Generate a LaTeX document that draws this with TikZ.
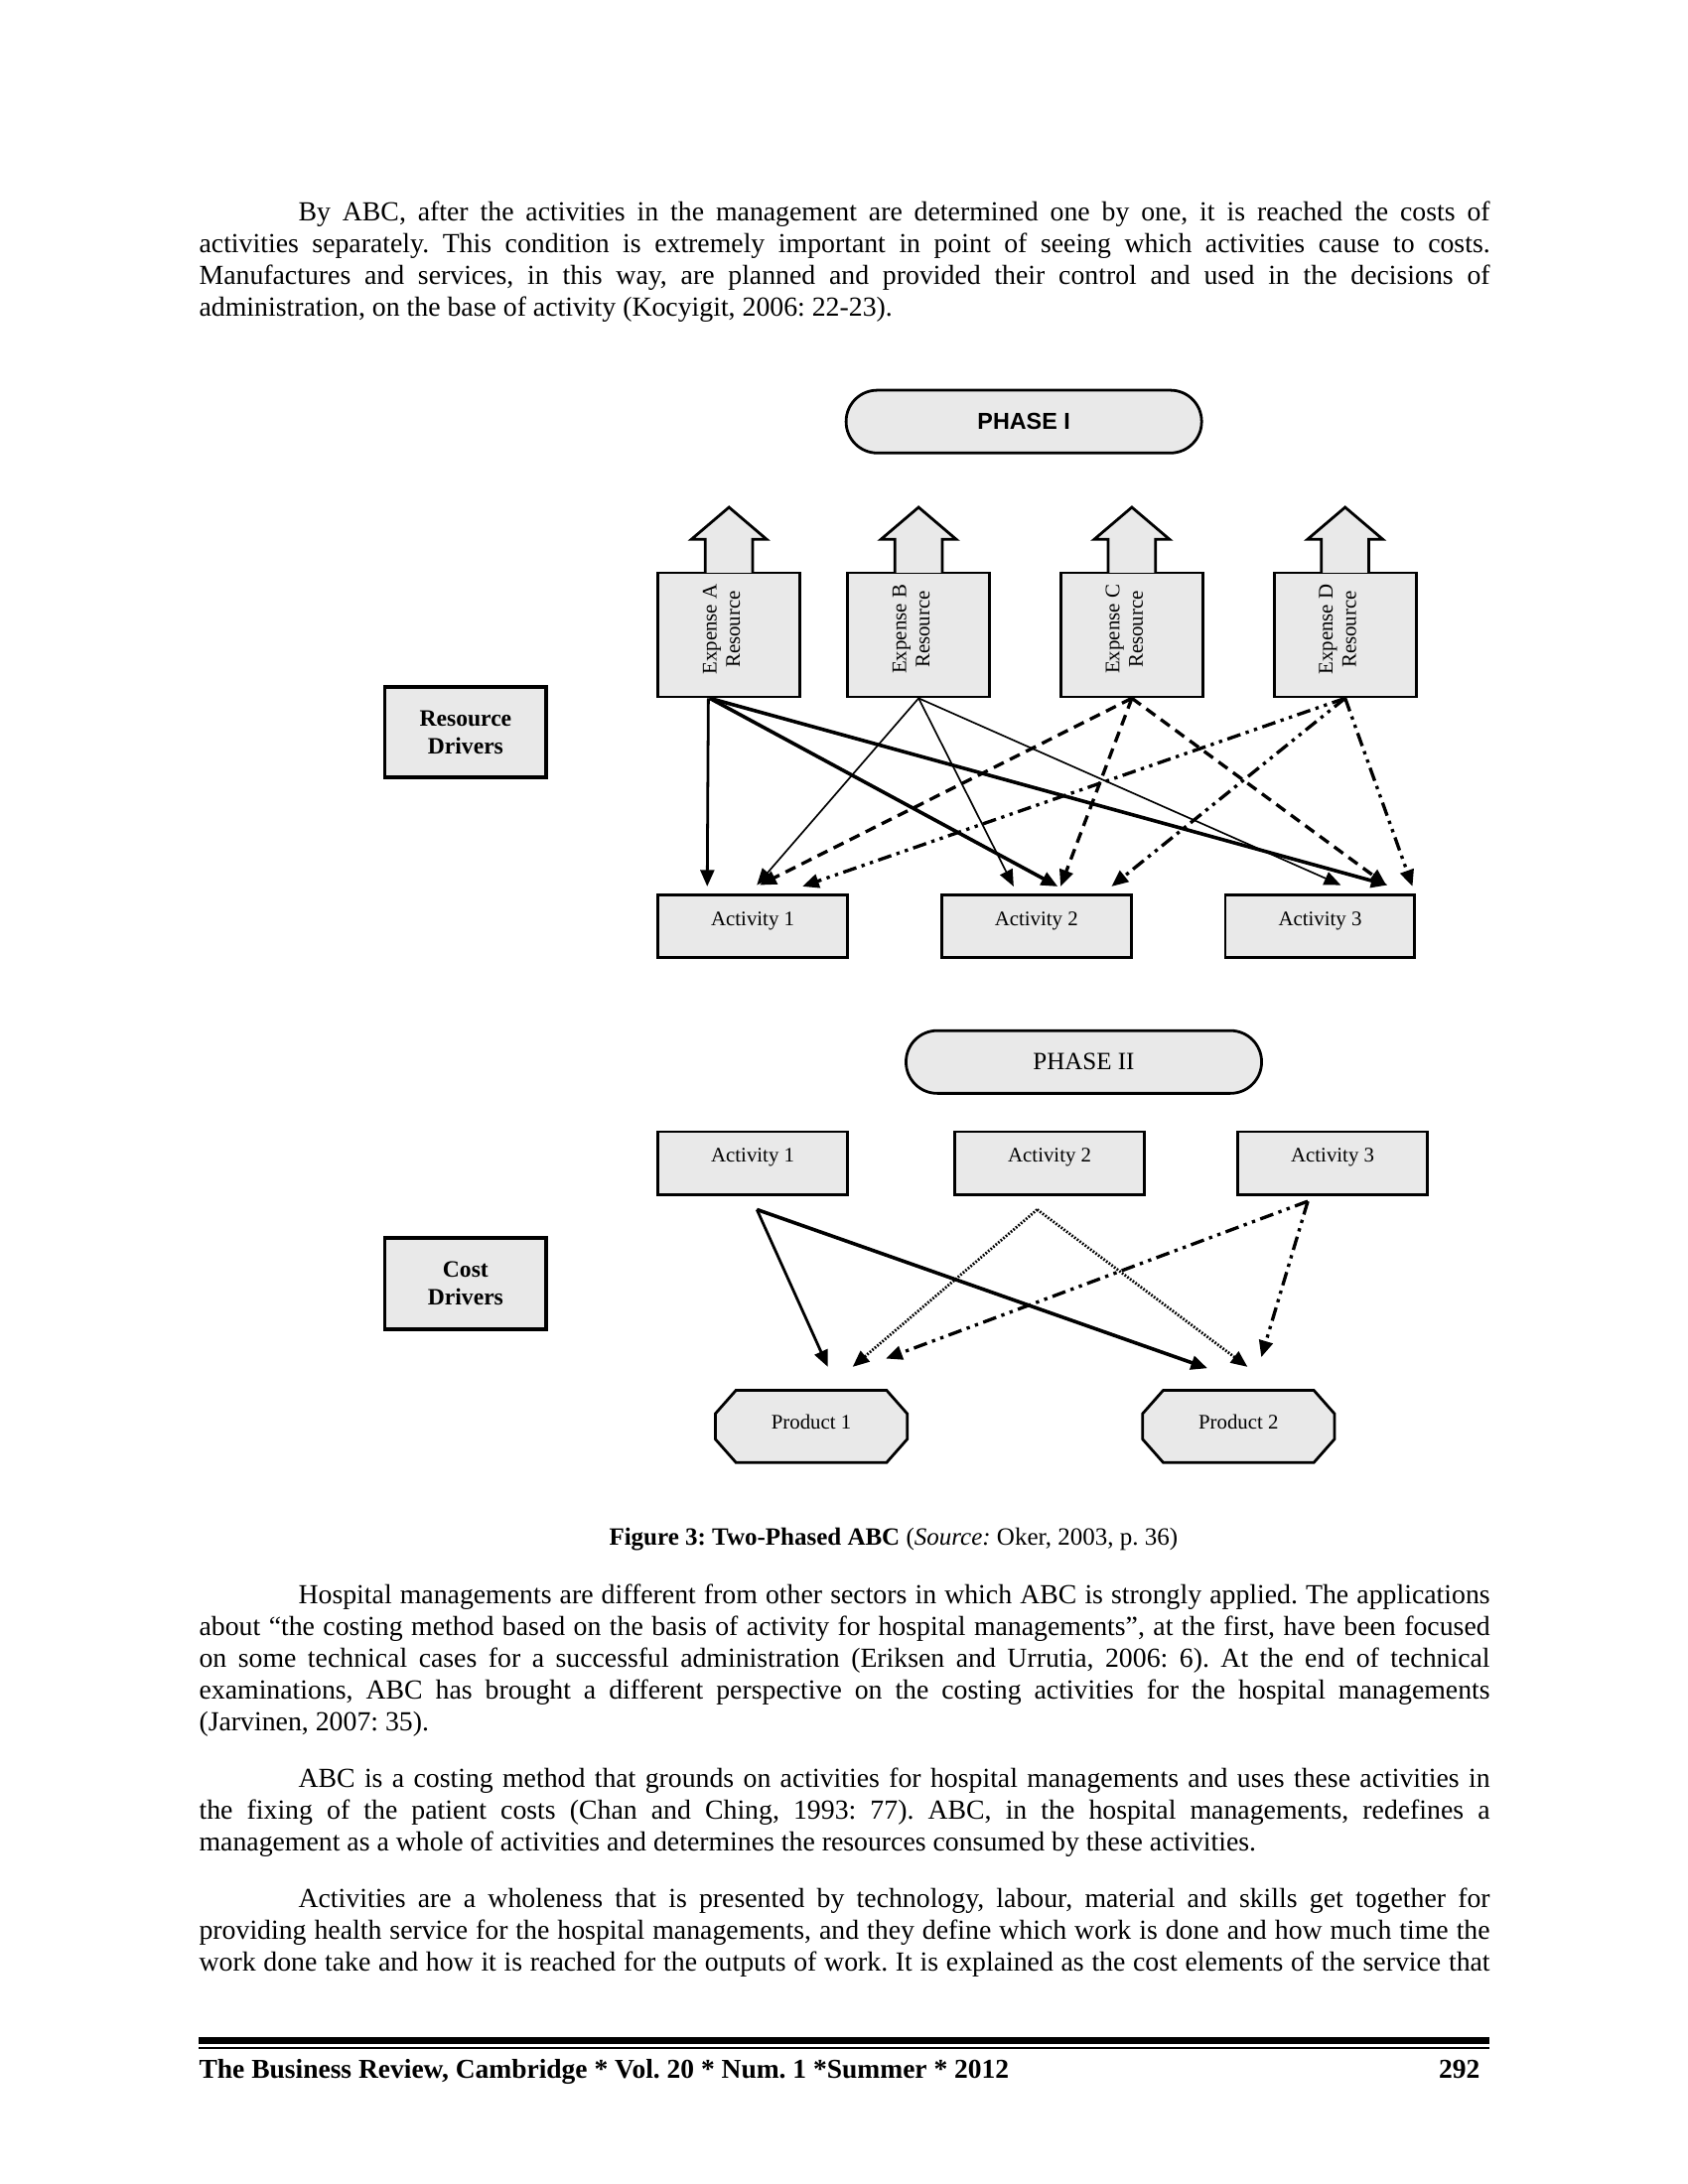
\documentclass[tikz,border=0pt]{standalone}
\usepackage{fontspec}
\usepackage{graphicx}
\setmainfont{Liberation Serif}
\newfontfamily\arialfont{Liberation Sans}
\usetikzlibrary{arrows.meta,backgrounds}
\definecolor{boxgray}{RGB}{233,233,233}
% one justified line of body text, and a last (natural) line
\newcommand{\jline}[1]{\hbox to 468pt{\strut #1}}
\newcommand{\lline}[1]{\hbox{\strut #1}}
\frenchspacing

\begin{document}
\begin{tikzpicture}[x=0.5054pt,y=-0.5054pt,
  box/.style={draw,line width=1pt,fill=boxgray,inner sep=0pt},
  resbox/.style={box,minimum width=51.5pt,minimum height=45pt,font=\fontsize{7.5}{8.5}\selectfont},
  actbox/.style={box,minimum width=68.7pt,minimum height=22.75pt,text height=5.5pt,text depth=6pt,font=\fontsize{7.5}{9}\selectfont},
  drvbox/.style={box,line width=1.4pt,minimum width=58.6pt,minimum height=32.85pt,align=center,font=\fontsize{8.5}{10}\selectfont\bfseries},
  phasebox/.style={box,rounded corners=11.3pt,minimum width=128.9pt,minimum height=22.75pt},
  prodbox/.style={inner sep=0pt,minimum width=69.2pt,minimum height=25.8pt,text depth=3pt,font=\fontsize{7.5}{9}\selectfont},
  para/.style={anchor=north west,inner sep=0pt,font=\fontsize{10}{11.5}\selectfont},
  link/.style={-{Triangle[length=6pt,width=5pt]}},
  midlink/.style={link,line width=1pt},
  heavylink/.style={link,line width=1.3pt},
  lightlink/.style={link,line width=0.6pt},
  dashlink/.style={link,line width=1.2pt,dash pattern=on 4pt off 2.5pt},
  dotdashlink/.style={link,line width=1.2pt,dash pattern=on 5pt off 2pt on 1.2pt off 2pt on 1.2pt off 2pt},
  dotlink/.style={link,line width=1pt,dash pattern=on 0.6pt off 0.6pt}]

  \useasboundingbox (0,0) rectangle (1210.9,1567.1);

  % text above the figure
  \node[para] (txt1) at (142.5,142.4) {\vbox{%
    \jline{\hspace*{36pt}By ABC, after the activities in the management are determined one by one, it is reached the costs of}
    \jline{activities separately. This condition is extremely important in point of seeing which activities cause to costs.}
    \jline{Manufactures and services, in this way, are planned and provided their control and used in the decisions of}
    \lline{administration, on the base of activity (Kocyigit, 2006: 22-23).}}};

  % phase I
  \node[phasebox,font=\arialfont\fontsize{8.4}{9}\selectfont\bfseries] (ph1) at (734.5,302.5) {PHASE I};
  \foreach \n/\x in {A/523,B/659,C/812,D/965} {
    \node[resbox] (ex\n) at (\x,455.5) {\kern-4pt\raisebox{4pt}{\rotatebox{90}{\begin{tabular}{@{}c@{}}Expense \n\\Resource\end{tabular}}}};
    \draw[line width=1pt,fill=boxgray] ([xshift=-8.6pt,yshift=-0.5pt]ex\n.north) -- ++(0,-24) -- ++(-10,0)
      -- ++(27,-23) -- ++(27,23) -- ++(-10,0) -- ++(0,24);
  }
  \node[drvbox] (resdrv) at (334,525.5) {Resource\\Drivers};
  \node[actbox] (r1) at (540,664.5) {Activity 1};
  \node[actbox] (r2) at (743.5,664.5) {Activity 2};
  \node[actbox] (r3) at (947,664.5) {Activity 3};

  \draw[midlink] ([xshift=-7.5pt]exA.south) -- ([xshift=-16.5pt,yshift=2.5pt]r1.north);
  \draw[heavylink] ([xshift=-7pt]exA.south) -- ([xshift=7.75pt,yshift=2.5pt]r2.north);
  \draw[heavylink] ([xshift=-7pt]exA.south) -- ([xshift=24.5pt,yshift=3pt]r3.north);
  \draw[lightlink] (exB.south) -- ([xshift=1.5pt,yshift=3pt]r1.north);
  \draw[lightlink] (exB.south) -- ([xshift=-8.25pt,yshift=2.5pt]r2.north);
  \draw[lightlink] (exB.south) -- ([xshift=7.5pt,yshift=3pt]r3.north);
  \draw[dashlink] (exC.south) -- ([xshift=2.5pt,yshift=3pt]r1.north);
  \draw[dashlink] (exC.south) -- ([xshift=8.75pt,yshift=2.5pt]r2.north);
  \draw[dashlink] (exC.south) -- ([xshift=24pt,yshift=3pt]r3.north);
  \draw[dotdashlink] (exD.south) -- ([xshift=18pt,yshift=2.5pt]r1.north);
  \draw[dotdashlink] (exD.south) -- ([xshift=27.25pt,yshift=2.5pt]r2.north);
  \draw[dotdashlink] (exD.south) -- ([xshift=33.5pt,yshift=2.5pt]r3.north);

  % phase II
  \node[phasebox,font=\fontsize{9}{10}\selectfont] (ph2) at (777.5,762) {PHASE II};
  \node[actbox] (c1) at (540,834.5) {Activity 1};
  \node[actbox] (c2) at (753,834.5) {Activity 2};
  \node[actbox] (c3) at (956,834.5) {Activity 3};
  \node[drvbox] (costdrv) at (334,921) {Cost\\Drivers};
  \node[prodbox] (p1) at (582,1023.5) {Product 1};
  \node[prodbox] (p2) at (888.5,1023.5) {Product 2};
  \begin{scope}[on background layer]
    \fill[white] (0,0) rectangle (1210.9,1567.1);
    \foreach \p in {p1,p2}
      \draw[line width=1pt,fill=boxgray] ([xshift=7.5pt]\p.north west) -- ([xshift=-7.5pt]\p.north east)
        -- ([yshift=-8.5pt]\p.north east) -- ([yshift=8.5pt]\p.south east) -- ([xshift=-7.5pt]\p.south east)
        -- ([xshift=7.5pt]\p.south west) -- ([yshift=8.5pt]\p.south west) -- ([yshift=-8.5pt]\p.north west) -- cycle;
  \end{scope}

  \draw[midlink] ([xshift=1.5pt,yshift=-5pt]c1.south) -- ([xshift=6pt,yshift=8.5pt]p1.north);
  \draw[heavylink] ([xshift=1.5pt,yshift=-5pt]c1.south) -- ([xshift=-11.25pt,yshift=8pt]p2.north);
  \draw[dotlink] ([xshift=-4.5pt,yshift=-5pt]c2.south) -- ([xshift=15pt,yshift=8.5pt]p1.north);
  \draw[dotlink] ([xshift=-4.5pt,yshift=-5pt]c2.south) -- ([xshift=3.25pt,yshift=8.5pt]p2.north);
  \draw[dotdashlink] ([xshift=-9pt,yshift=-2pt]c3.south) -- ([xshift=27pt,yshift=11.5pt]p1.north);
  \draw[dotdashlink] ([xshift=-9pt,yshift=-2pt]c3.south) -- ([xshift=8.25pt,yshift=12pt]p2.north);

  \node[anchor=base,inner sep=0pt,font=\fontsize{9}{11}\selectfont] (cap) at (641,1108.5)
    {\textbf{Figure 3: Two-Phased ABC} (\textit{Source:} Oker, 2003, p. 36)};

  % text below the figure
  \node[para] (txt2) at (142.5,1134.4) {\vbox{%
    \jline{\hspace*{36pt}Hospital managements are different from other sectors in which ABC is strongly applied. The applications}
    \jline{about “the costing method based on the basis of activity for hospital managements”, at the first, have been focused}
    \jline{on some technical cases for a successful administration (Eriksen and Urrutia, 2006: 6). At the end of technical}
    \jline{examinations, ABC has brought a different perspective on the costing activities for the hospital managements}
    \lline{(Jarvinen, 2007: 35).}}};
  \node[para] (txt3) at (142.5,1266.4) {\vbox{%
    \jline{\hspace*{36pt}ABC is a costing method that grounds on activities for hospital managements and uses these activities in}
    \jline{the fixing of the patient costs (Chan and Ching, 1993: 77). ABC, in the hospital managements, redefines a}
    \lline{management as a whole of activities and determines the resources consumed by these activities.}}};
  \node[para] (txt4) at (142.5,1352.4) {\vbox{%
    \jline{\hspace*{36pt}Activities are a wholeness that is presented by technology, labour, material and skills get together for}
    \jline{providing health service for the hospital managements, and they define which work is done and how much time the}
    \jline{work done take and how it is reached for the outputs of work. It is explained as the cost elements of the service that}}};

  % footer
  \fill (142.5,1461.5) rectangle (1068.5,1466.5);
  \fill (142.5,1469) rectangle (1068.5,1470.5);
  \node[anchor=base west,inner sep=0pt,font=\fontsize{9.9}{11}\selectfont\bfseries] (foot) at (142.5,1491)
    {The Business Review, Cambridge * Vol. 20 * Num. 1 *Summer * 2012};
  \node[anchor=base east,inner sep=0pt,font=\fontsize{9.9}{11}\selectfont\bfseries] (page) at (1062,1491) {292};
\end{tikzpicture}
\end{document}
